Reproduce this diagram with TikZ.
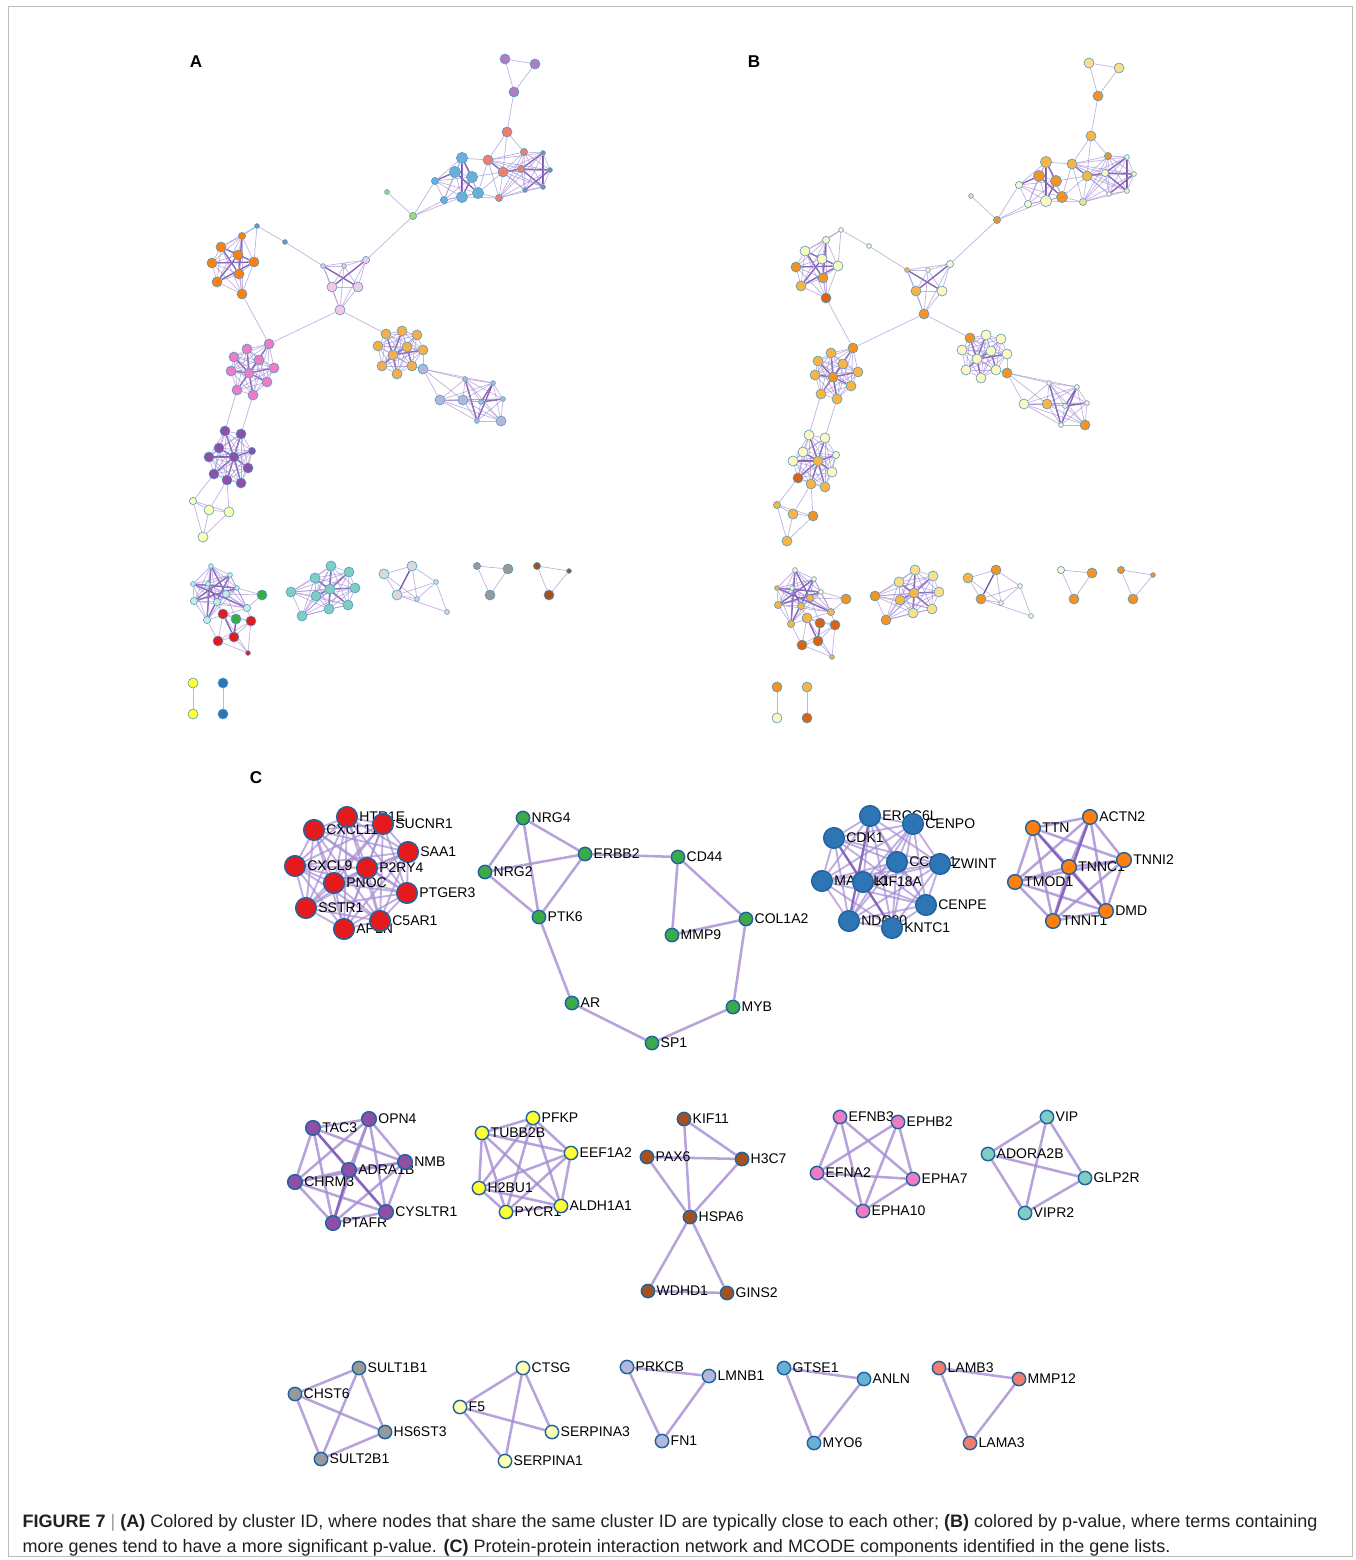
\documentclass[tikz,border=0pt]{standalone}
\usepackage{fontspec}
\setmainfont{Liberation Sans}
\usetikzlibrary{backgrounds}

% colours, panel A (cluster ID)
\definecolor{aVio}{HTML}{B07CC6}
\definecolor{aSal}{HTML}{F47C6E}
\definecolor{aBlu}{HTML}{6BAED6}
\definecolor{aDk}{HTML}{7E8FB0}
\definecolor{aLime}{HTML}{A6D96A}
\definecolor{aLpk}{HTML}{F5C9E3}
\definecolor{aOrg}{HTML}{FF7F0E}
\definecolor{aPnk}{HTML}{EE7BC3}
\definecolor{aLor}{HTML}{F6AE4B}
\definecolor{aLgv}{HTML}{B3B8DA}
\definecolor{aPur}{HTML}{8E4FA5}
\definecolor{aPyl}{HTML}{FFFFB3}
\definecolor{aPtl}{HTML}{C9ECE4}
\definecolor{aGrn}{HTML}{3CAA46}
\definecolor{aRed}{HTML}{E41A1C}
\definecolor{aTel}{HTML}{7FCDC3}
\definecolor{aLgr}{HTML}{D9D9D9}
\definecolor{aGry}{HTML}{999999}
\definecolor{aBrn}{HTML}{A6501E}
\definecolor{aYel}{HTML}{FFFF33}
\definecolor{aSbl}{HTML}{2E75B6}
% colours, panel B (p-value)
\definecolor{pa}{HTML}{FFF6C2}
\definecolor{pb}{HTML}{FCDD8C}
\definecolor{pc}{HTML}{F9B446}
\definecolor{pd}{HTML}{F39325}
\definecolor{pe}{HTML}{DA6214}
% lines
\definecolor{ringA}{HTML}{4A9BC4}
\definecolor{ringC}{HTML}{1F64A0}
\definecolor{edgeL}{HTML}{9C82CC}
\definecolor{edgeD}{HTML}{5E36A0}
\definecolor{edgeC}{HTML}{A58BD3}
\definecolor{edgeCD}{HTML}{7E5AB8}
\definecolor{framec}{HTML}{BDBDBD}
\definecolor{capbar}{HTML}{9A9A9A}
\definecolor{capc}{HTML}{231F20}

\tikzset{every picture/.style={line width=0.75pt}}
\tikzset{
  nn/.style={circle, draw=ringA, line width=0.45pt, inner sep=0pt},
  nL/.style={minimum size=8.4pt},
  nM/.style={minimum size=7.5pt},
  nS/.style={minimum size=5.4pt},
  nT/.style={minimum size=3.6pt},
  ln/.style={draw=edgeL, line width=0.55pt, opacity=0.6},
  dk/.style={draw=edgeD, line width=1pt, opacity=0.85},
  gn/.style={circle, draw=ringC, line width=1.1pt, inner sep=0pt, minimum size=10pt},
  gbig/.style={gn, minimum size=15.5pt},
  gmid/.style={gn, minimum size=11pt},
  lbl/.style={font=\fontsize{10.5}{12}\selectfont, inner sep=0.6pt, text=black},
  ce/.style={draw=edgeC, line width=1.9pt, opacity=0.8},
  ct/.style={draw=edgeC, line width=1.4pt, opacity=0.7},
  cd/.style={draw=edgeCD, line width=1.7pt, opacity=0.8},
  panel/.style={font=\bfseries\fontsize{12.8}{14}\selectfont, inner sep=0pt},
}

% all pairs of a node list
\newcommand{\pcliq}[3]{\foreach \a [count=\i] in {#3}{\foreach \b [count=\j] in {#3}{\ifnum\j>\i\relax\draw[#2] (#1-\a) -- (#1-\b);\fi}}}

% caption lines
\newcommand{\capone}{\textbf{FIGURE 7} {\color{capbar}|} \textbf{(A)} Colored by cluster ID, where nodes that share the same cluster ID are typically close to each other; \textbf{(B)} colored by p-value, where terms containing}
\newcommand{\captwo}{more genes tend to have a more significant p-value. \textbf{(C)} Protein-protein interaction network and MCODE components identified in the gene lists.}
\newlength{\capw}

% name/x/y/size/colour A/colour B
\def\netnodes{t1/505/59/nM/aVio/pb, t2/535/64/nM/aVio/pb, t3/514/92/nM/aVio/pd, s1/507/132/nM/aSal/pc,
 u1/462/158/nL/aBlu/pc, u2/455/172/nL/aBlu/pd, u3/472/177/nL/aBlu/pd, u4/435/181/nS/aBlu/pa, u5/444/200/nS/aBlu/pa, u6/462/197/nL/aBlu/pa, u7/478/193/nL/aBlu/pd,
 r1/488/160/nM/aSal/pc, r2/503/172/nM/aSal/pc, r3/524/152/nS/aSal/pd, r4/521/169/nS/aSal/pa, r5/499/198/nS/aSal/pb,
 v1/543/153/nT/aDk/pa, v2/550/170/nT/aDk/pa, v3/543/187/nT/aDk/pa, v4/525/190/nT/aDk/pa,
 g1/387/192/nT/aLime/pb, g2/413/216/nS/aLime/pd,
 c1/323/266/nT/aLpk/pc, c2/344/266/nT/aLpk/pa, c3/366/260/nS/aLpk/pa, c4/332/287/nM/aLpk/pc, c5/358/287/nM/aLpk/pa, c6/340/310/nM/aLpk/pd,
 o1/257/226/nT/aDk/pa, o2/285/242/nT/aDk/pa, o3/242/236/nS/aOrg/pa, o4/221/247/nM/aOrg/pa, o5/238/255/nM/aOrg/pa, o6/212/263/nM/aOrg/pd, o7/254/262/nM/aOrg/pa, o8/239/274/nM/aOrg/pd, o9/217/282/nM/aOrg/pc, o10/242/294/nM/aOrg/pe,
 p1/269/344/nM/aPnk/pd, p2/247/349/nM/aPnk/pc, p3/234/357/nM/aPnk/pc, p4/259/360/nM/aPnk/pc, p5/231/371/nM/aPnk/pc, p6/249/373/nM/aPnk/pd, p7/274/368/nM/aPnk/pc, p8/267/382/nM/aPnk/pc, p9/237/390/nM/aPnk/pc, p10/253/395/nM/aPnk/pc,
 q1/386/334/nM/aLor/pd, q2/402/331/nM/aLor/pa, q3/417/335/nM/aLor/pa, q4/378/346/nM/aLor/pa, q5/407/347/nM/aLor/pa, q6/423/350/nM/aLor/pa, q7/393/355/nM/aLor/pa, q8/382/366/nM/aLor/pa, q9/397/374/nM/aLor/pa, q10/412/366/nM/aLor/pa,
 l1/423/369/nM/aLgv/pd, l2/440/400/nM/aLgv/pa, l3/463/400/nM/aLgv/pc, l4/501/421/nM/aLgv/pd, l5/465/379/nT/aLgv/pa, l6/493/383/nT/aLgv/pa, l7/503/399/nT/aLgv/pa, l8/481/402/nT/aLgv/pa, l9/477/421/nT/aLgv/pa,
 m1/225/431/nM/aPur/pa, m2/241/434/nM/aPur/pa, m3/219/448/nM/aPur/pa, m4/209/457/nM/aPur/pa, m5/234/457/nM/aPur/pc, m6/252/451/nS/aPur/pa, m7/248/468/nM/aPur/pa, m8/214/474/nM/aPur/pe, m9/227/480/nM/aPur/pc, m10/241/483/nM/aPur/pc,
 y1/193/501/nS/aPyl/pc, y2/209/510/nM/aPyl/pc, y3/229/512/nM/aPyl/pd, y4/203/537/nM/aPyl/pc,
 k1/211/566/nT/aPtl/pa, k2/230/575/nT/aPtl/pa, k3/193/584/nT/aPtl/pc, k4/208/584/nT/aPtl/pa, k5/237/588/nT/aPtl/pa, k6/226/594/nS/aPtl/pc, k7/194/601/nS/aPtl/pc, k8/217/602/nS/aPtl/pc, k9/247/608/nS/aPtl/pc, k10/207/620/nS/aPtl/pc,
 k11/262/595/nM/aGrn/pd, k12/236/619/nM/aGrn/pe, k13/223/614/nM/aRed/pc, k14/251/621/nM/aRed/pe, k15/218/641/nM/aRed/pe, k16/234/637/nM/aRed/pe, k17/248/653/nT/aRed/pc,
 e1/331/566/nM/aTel/pb, e2/349/572/nM/aTel/pb, e3/315/578/nM/aTel/pb, e4/355/588/nM/aTel/pb, e5/291/592/nM/aTel/pd, e6/316/596/nM/aTel/pc, e7/330/589/nM/aTel/pc, e8/348/605/nM/aTel/pb, e9/329/609/nM/aTel/pb, e10/302/616/nM/aTel/pd,
 w1/384/574/nM/aLgr/pc, w2/412/566/nM/aLgr/pd, w3/397/595/nM/aLgr/pd, w4/436/582/nT/aLgr/pa, w5/417/599/nT/aLgr/pa, w6/447/612/nT/aLgr/pa,
 h1/477/566/nS/aGry/pa, h2/508/569/nM/aGry/pd, h3/490/595/nM/aGry/pd,
 b1/537/566/nS/aBrn/pd, b2/569/571/nT/aBrn/pd, b3/549/595/nM/aBrn/pd,
 x1/193/683/nM/aYel/pd, x2/193/714/nM/aYel/pa, x3/223/683/nM/aSbl/pc, x4/223/714/nM/aSbl/pe}

\def\netedges{t1/t2/ln, t1/t3/ln, t2/t3/ln, t3/s1/ln, s1/r1/ln, s1/r2/ln, s1/r3/ln,
 u1/r1/ln, u3/r2/ln, u7/r2/ln, u6/r5/ln, u7/r5/ln, r1/u7/ln,
 u1/u6/dk, u2/u7/dk, u1/u3/dk, u3/u6/dk, u2/u4/dk, r1/r2/dk, r2/r4/dk, r4/v1/dk, r4/v3/dk, v1/v3/dk, v2/v4/dk, v2/r4/dk,
 g1/g2/ln, g2/u4/ln, g2/u5/ln, g2/u6/ln, g2/c3/ln,
 c1/o2/ln, o2/o1/ln, o1/o3/ln, o1/o4/ln, o1/o7/ln,
 o6/o7/dk, o4/o8/dk, o5/o9/dk, o3/o8/dk, o7/o9/dk, o4/o7/dk,
 o10/p1/ln, c6/p1/ln, c6/q1/ln, c4/c3/dk, c1/c5/dk,
 p6/p1/dk, p6/p2/dk, p6/p3/dk, p6/p4/dk, p6/p5/dk, p6/p7/dk, p6/p8/dk, p6/p9/dk, p6/p10/dk,
 q7/q1/dk, q7/q2/dk, q7/q5/dk, q7/q6/dk, q7/q8/dk, q7/q9/dk, q5/q10/dk,
 q10/l1/ln, q6/l1/ln, l1/l2/ln, l1/l3/ln, l1/l5/ln, l1/l6/ln,
 l5/l9/dk, l6/l8/dk, l6/l9/dk, l7/l8/dk,
 p9/m1/ln, p10/m2/ln,
 m5/m1/dk, m5/m2/dk, m5/m3/dk, m5/m4/dk, m5/m6/dk, m5/m7/dk, m5/m8/dk, m5/m9/dk, m5/m10/dk,
 m8/y1/ln, m9/y2/ln, m9/y3/ln,
 k1/k6/dk, k2/k7/dk, k3/k9/dk, k4/k8/dk, k1/k10/dk, k5/k7/dk, k2/k10/dk, k3/k5/dk,
 k8/k13/ln, k9/k14/ln, k6/k12/ln, k12/k13/ln, k12/k14/ln, k11/k5/ln, k11/k9/ln, k11/k6/ln, k10/k15/ln, k12/k16/dk, k13/k16/dk,
 e7/e1/dk, e7/e2/dk, e7/e4/dk, e7/e6/dk, e7/e9/dk, e1/e9/dk, e3/e8/dk,
 w1/w2/ln, w1/w3/ln, w2/w3/dk, w2/w4/ln, w2/w5/ln, w3/w4/ln, w3/w5/ln, w4/w5/ln, w4/w6/ln, w3/w6/ln, w1/w5/ln,
 h1/h2/ln, h1/h3/ln, h2/h3/ln, b1/b2/ln, b1/b3/ln, b2/b3/ln, x1/x2/ln, x3/x4/ln}

% draws the enrichment network, #1 = name prefix
\newcommand{\drawnet}[1]{%
  \foreach \n/\x/\y/\s/\ca/\cb in \netnodes {%
    \edef\nc{\usecol{\ca}{\cb}}%
    \node[nn, \s, fill=\nc] (#1-\n) at (\x,\y) {};
  }
  \begin{scope}[on background layer]
    \foreach \a/\b/\w in \netedges {\draw[\w] (#1-\a) -- (#1-\b);}
    \pcliq{#1}{ln}{u1,u2,u3,u4,u5,u6,u7}
    \pcliq{#1}{ln}{r1,r2,r3,r4,r5,v1,v2,v3,v4}
    \pcliq{#1}{ln}{c1,c2,c3,c4,c5,c6}
    \pcliq{#1}{ln}{o3,o4,o5,o6,o7,o8,o9,o10}
    \pcliq{#1}{ln}{p1,p2,p3,p4,p5,p6,p7,p8,p9,p10}
    \pcliq{#1}{ln}{q1,q2,q3,q4,q5,q6,q7,q8,q9,q10}
    \pcliq{#1}{ln}{l2,l3,l4,l5,l6,l7,l8,l9}
    \pcliq{#1}{ln}{m1,m2,m3,m4,m5,m6,m7,m8,m9,m10}
    \pcliq{#1}{ln}{y1,y2,y3,y4}
    \pcliq{#1}{ln}{k1,k2,k3,k4,k5,k6,k7,k8,k9,k10}
    \pcliq{#1}{ln}{k13,k14,k15,k16,k17}
    \pcliq{#1}{ln}{e1,e2,e3,e4,e5,e6,e7,e8,e9,e10}
  \end{scope}
}

\begin{document}
% caption font sized so that the second line is 1148 px wide
\settowidth{\capw}{\fontsize{10}{12}\selectfont\captwo}
\pgfmathsetmacro{\capfs}{10*861/\capw}
\begin{tikzpicture}[x=0.75pt,y=0.75pt,yscale=-1,xscale=1]
\useasboundingbox (0,0) rectangle (1356,1560);
\draw[framec, line width=0.6pt] (8,6) rectangle (1352,1556);

% panel labels
\node[panel] (labA) at (196,62) {A};
\node[panel] (labB) at (754,62) {B};
\node[panel] (labC) at (256,778) {C};

% A: coloured by cluster ID
\def\usecol#1#2{#1}
\drawnet{A}

% B: coloured by p-value
\def\usecol#1#2{#2}
\begin{scope}[shift={(584,4)}]
\drawnet{B}
\end{scope}

% C: PPI network and MCODE components
\foreach \n/\x/\y in {CXCL11/314/830, HTR1E/347/817, SUCNR1/383/824, SAA1/408/852, CXCL9/295/866, PNOC/334/883, P2RY4/367/868, PTGER3/407/893, SSTR1/306/908, APLN/344/929, C5AR1/380/921}
  \node[gbig, fill=aRed, label={[lbl]right:\n}] (C-\n) at (\x,\y) {};
\foreach \n/\x/\y in {NRG4/523/818, ERBB2/585/854, CD44/678/857, NRG2/485/872, PTK6/539/917, COL1A2/746/919, MMP9/672/935, AR/572/1003, MYB/733/1007, SP1/652/1043}
  \node[gn, fill=aGrn, label={[lbl]right:\n}] (C-\n) at (\x,\y) {};
\foreach \n/\x/\y in {ERCC6L/870/816, CENPO/913/824, CDK1/834/838, CCNB1/897/862, ZWINT/940/864, MAD2L1/822/881, KIF18A/863/882, CENPE/926/905, NDC80/849/921, KNTC1/892/928}
  \node[gbig, fill=aSbl, label={[lbl]right:\n}] (C-\n) at (\x,\y) {};
\foreach \n/\x/\y in {ACTN2/1090/817, TTN/1033/828, TMOD1/1015/882, TNNC1/1069/867, TNNI2/1124/860, TNNT1/1053/921, DMD/1106/911}
  \node[gmid, fill=aOrg, label={[lbl]right:\n}] (C-\n) at (\x,\y) {};
\foreach \n/\x/\y in {OPN4/369/1119, TAC3/313/1128, CHRM3/295/1182, ADRA1B/349/1170, NMB/405/1162, PTAFR/333/1223, CYSLTR1/386/1212}
  \node[gmid, fill=aPur, label={[lbl]right:\n}] (C-\n) at (\x,\y) {};
\foreach \n/\x/\y in {TUBB2B/482/1133, PFKP/533/1118, EEF1A2/571/1153, H2BU1/479/1188, PYCR1/506/1212, ALDH1A1/561/1206}
  \node[gn, fill=aYel, label={[lbl]right:\n}] (C-\n) at (\x,\y) {};
\foreach \n/\x/\y in {KIF11/684/1119, PAX6/647/1157, H3C7/742/1159, HSPA6/690/1217, WDHD1/648/1291, GINS2/727/1293}
  \node[gn, fill=aBrn, label={[lbl]right:\n}] (C-\n) at (\x,\y) {};
\foreach \n/\x/\y in {EFNB3/840/1117, EPHB2/898/1122, EFNA2/817/1173, EPHA7/913/1179, EPHA10/863/1211}
  \node[gn, fill=aPnk, label={[lbl]right:\n}] (C-\n) at (\x,\y) {};
\foreach \n/\x/\y in {VIP/1047/1117, ADORA2B/988/1154, GLP2R/1085/1178, VIPR2/1025/1213}
  \node[gn, fill=aTel, label={[lbl]right:\n}] (C-\n) at (\x,\y) {};
\foreach \n/\x/\y in {SULT1B1/359/1368, CHST6/295/1394, HS6ST3/385/1432, SULT2B1/321/1459}
  \node[gn, fill=aGry, label={[lbl]right:\n}] (C-\n) at (\x,\y) {};
\foreach \n/\x/\y in {CTSG/523/1368, F5/460/1407, SERPINA3/552/1432, SERPINA1/505/1461}
  \node[gn, fill=aPyl, label={[lbl]right:\n}] (C-\n) at (\x,\y) {};
\foreach \n/\x/\y in {PRKCB/627/1367, LMNB1/709/1376, FN1/662/1441}
  \node[gn, fill=aLgv, label={[lbl]right:\n}] (C-\n) at (\x,\y) {};
\foreach \n/\x/\y in {GTSE1/784/1368, ANLN/864/1379, MYO6/814/1443}
  \node[gn, fill=aBlu, label={[lbl]right:\n}] (C-\n) at (\x,\y) {};
\foreach \n/\x/\y in {LAMB3/939/1368, MMP12/1019/1379, LAMA3/970/1443}
  \node[gn, fill=aSal, label={[lbl]right:\n}] (C-\n) at (\x,\y) {};

\begin{scope}[on background layer]
\pcliq{C}{ct}{CXCL11,HTR1E,SUCNR1,SAA1,CXCL9,PNOC,P2RY4,PTGER3,SSTR1,APLN,C5AR1}
\pcliq{C}{ct}{ERCC6L,CENPO,CDK1,CCNB1,ZWINT,MAD2L1,KIF18A,CENPE,NDC80,KNTC1}
\pcliq{C}{ce}{ACTN2,TTN,TMOD1,TNNC1,TNNI2,TNNT1,DMD}
\pcliq{C}{ce}{OPN4,TAC3,CHRM3,ADRA1B,NMB,PTAFR,CYSLTR1}
\pcliq{C}{ce}{TUBB2B,PFKP,EEF1A2,H2BU1,PYCR1,ALDH1A1}
\pcliq{C}{ce}{VIP,ADORA2B,GLP2R,VIPR2}
\pcliq{C}{ce}{SULT1B1,CHST6,HS6ST3,SULT2B1}
\pcliq{C}{ce}{PRKCB,LMNB1,FN1}
\pcliq{C}{ce}{GTSE1,ANLN,MYO6}
\pcliq{C}{ce}{LAMB3,MMP12,LAMA3}
\foreach \a/\b in {NRG4/NRG2, NRG4/ERBB2, NRG4/PTK6, NRG2/ERBB2, NRG2/PTK6, ERBB2/PTK6, ERBB2/CD44, CD44/MMP9, CD44/COL1A2, MMP9/COL1A2, PTK6/AR, AR/SP1, SP1/MYB, MYB/COL1A2,
  KIF11/H3C7, KIF11/HSPA6, PAX6/H3C7, PAX6/HSPA6, H3C7/HSPA6, HSPA6/WDHD1, HSPA6/GINS2, WDHD1/GINS2,
  EFNB3/EFNA2, EFNB3/EPHA10, EFNB3/EPHA7, EPHB2/EFNA2, EPHB2/EPHA10, EPHB2/EPHA7, EFNA2/EPHA7, EFNA2/EPHA10, EPHA10/EPHA7,
  CTSG/F5, CTSG/SERPINA3, CTSG/SERPINA1, F5/SERPINA3, F5/SERPINA1}
  \draw[ce] (C-\a) -- (C-\b);
\foreach \a/\b in {TTN/DMD, ACTN2/TNNT1, TAC3/CYSLTR1, ADRA1B/PTAFR, CDK1/KNTC1, ERCC6L/NDC80}
  \draw[cd] (C-\a) -- (C-\b);
\end{scope}

% caption
\node[font=\fontsize{\capfs}{18}\selectfont, text=capc, inner sep=0pt, anchor=base west] (cap1) at (22,1527) {\capone};
\node[font=\fontsize{\capfs}{18}\selectfont, text=capc, inner sep=0pt, anchor=base west] (cap2) at (22,1552) {\captwo};

\end{tikzpicture}
\end{document}
